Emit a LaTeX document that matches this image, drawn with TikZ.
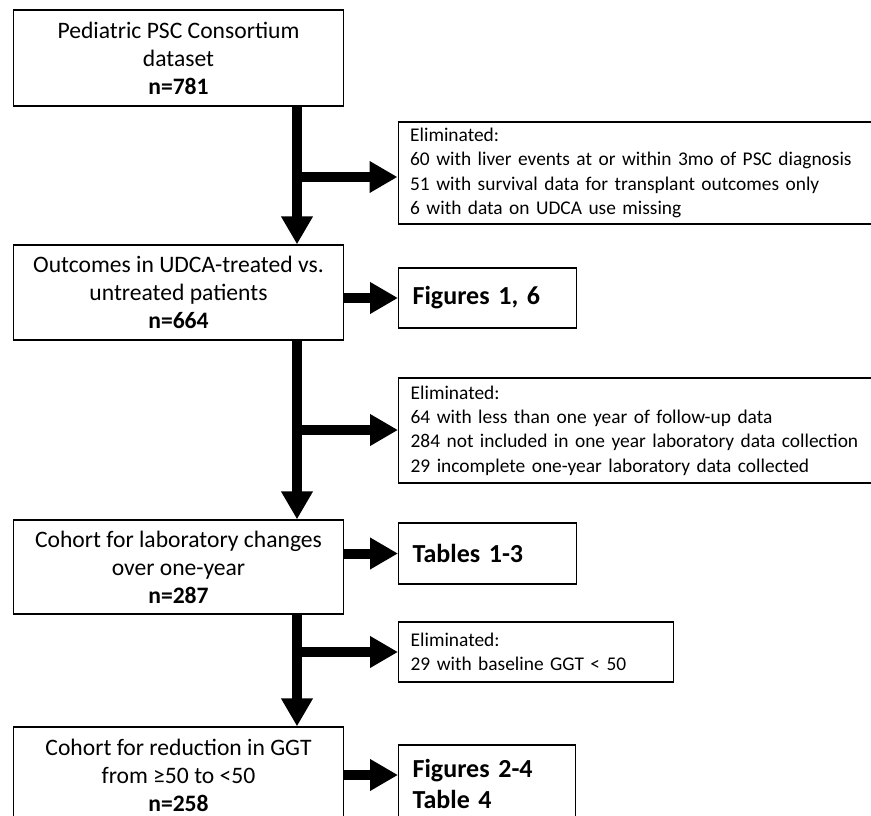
\documentclass[tikz,border=0pt]{standalone}
\usepackage{fontspec}
\setmainfont{Carlito}
\usetikzlibrary{arrows.meta}
\begin{document}
\begin{tikzpicture}[x=1pt,y=-1pt,
  mainbox/.style={draw=black, line width=1.3pt, rectangle, inner sep=0pt, align=center,
    minimum width=330pt, font=\fontsize{23.6}{28}\selectfont},
  elimbox/.style={draw=black, line width=1.3pt, rectangle, inner xsep=12pt, inner ysep=0pt,
    align=left, anchor=west, font=\fontsize{19.4}{24.3}\selectfont},
  refbox/.style={draw=black, line width=1.3pt, rectangle, inner xsep=14pt, inner ysep=0pt,
    align=left, anchor=west, font=\fontsize{26}{31}\selectfont\bfseries},
  flow/.style={line width=10pt, -{Triangle[width=30pt,length=28pt]}},
  stem/.style={line width=10pt}
]
\useasboundingbox (0,0) rectangle (871,816);
\clip (0,0) rectangle (871,816);

% main boxes
\node[mainbox, minimum height=96pt] (box1) at (178.5,58)
  {Pediatric PSC Consortium\\dataset\\\textbf{n=781}};
\node[mainbox, minimum height=95pt] (box2) at (178.5,292.5)
  {Outcomes in UDCA-treated vs.\\untreated patients\\\textbf{n=664}};
\node[mainbox, minimum height=94pt] (box3) at (178.5,567)
  {Cohort for laboratory changes\\over one-year\\\textbf{n=287}};
\node[mainbox, minimum height=96pt] (box4) at (178.5,775)
  {Cohort for reduction in GGT\\from ≥50 to <50\\\textbf{n=258}};

% elimination boxes
\node[elimbox, text width=476pt, minimum height=102pt] (elim1) at (397.5,173)
  {Eliminated:\\60 with liver events at or within 3mo of PSC diagnosis\\51 with survival data for transplant outcomes only\\6 with data on UDCA use missing};
\node[elimbox, text width=476pt, minimum height=105pt] (elim2) at (398,430.5)
  {Eliminated:\\64 with less than one year of follow-up data\\284 not included in one year laboratory data collection\\29 incomplete one-year laboratory data collected};
\node[elimbox, text width=251pt, minimum height=60pt] (elim3) at (398,652)
  {Eliminated:\\29 with baseline GGT < 50};

% reference boxes
\node[refbox, text width=150pt, minimum height=60pt] (fig16) at (398,298) {Figures 1, 6};
\node[refbox, text width=150pt, minimum height=61pt] (tab13) at (398,553.5) {Tables 1-3};
\node[refbox, text width=149pt, minimum height=78pt] (fig24) at (398,784) {Figures 2-4\\Table 4};

% stem x position and junctions
\coordinate (sx) at (297,0);
\coordinate (j1) at (297,177);
\coordinate (j2) at (297,430);
\coordinate (j3) at (297,652);

% vertical flow arrows
\draw[flow] (box1.south -| sx) -- (box2.north -| sx);
\draw[flow] (box2.south -| sx) -- (box3.north -| sx);
\draw[flow] (box3.south -| sx) -- (box4.north -| sx);

% branches to eliminated boxes
\draw[flow] (j1) -- (j1 -| elim1.west);
\draw[flow] (j2) -- (j2 -| elim2.west);
\draw[flow] (j3) -- (j3 -| elim3.west);

% arrows to figure/table boxes
\draw[flow] (fig16.west -| box2.east) -- (fig16.west);
\draw[flow] (tab13.west -| box3.east) -- (tab13.west);
\coordinate (a4) at (0,775);
\draw[flow] (a4 -| box4.east) -- (a4 -| fig24.west);
\end{tikzpicture}
\end{document}
